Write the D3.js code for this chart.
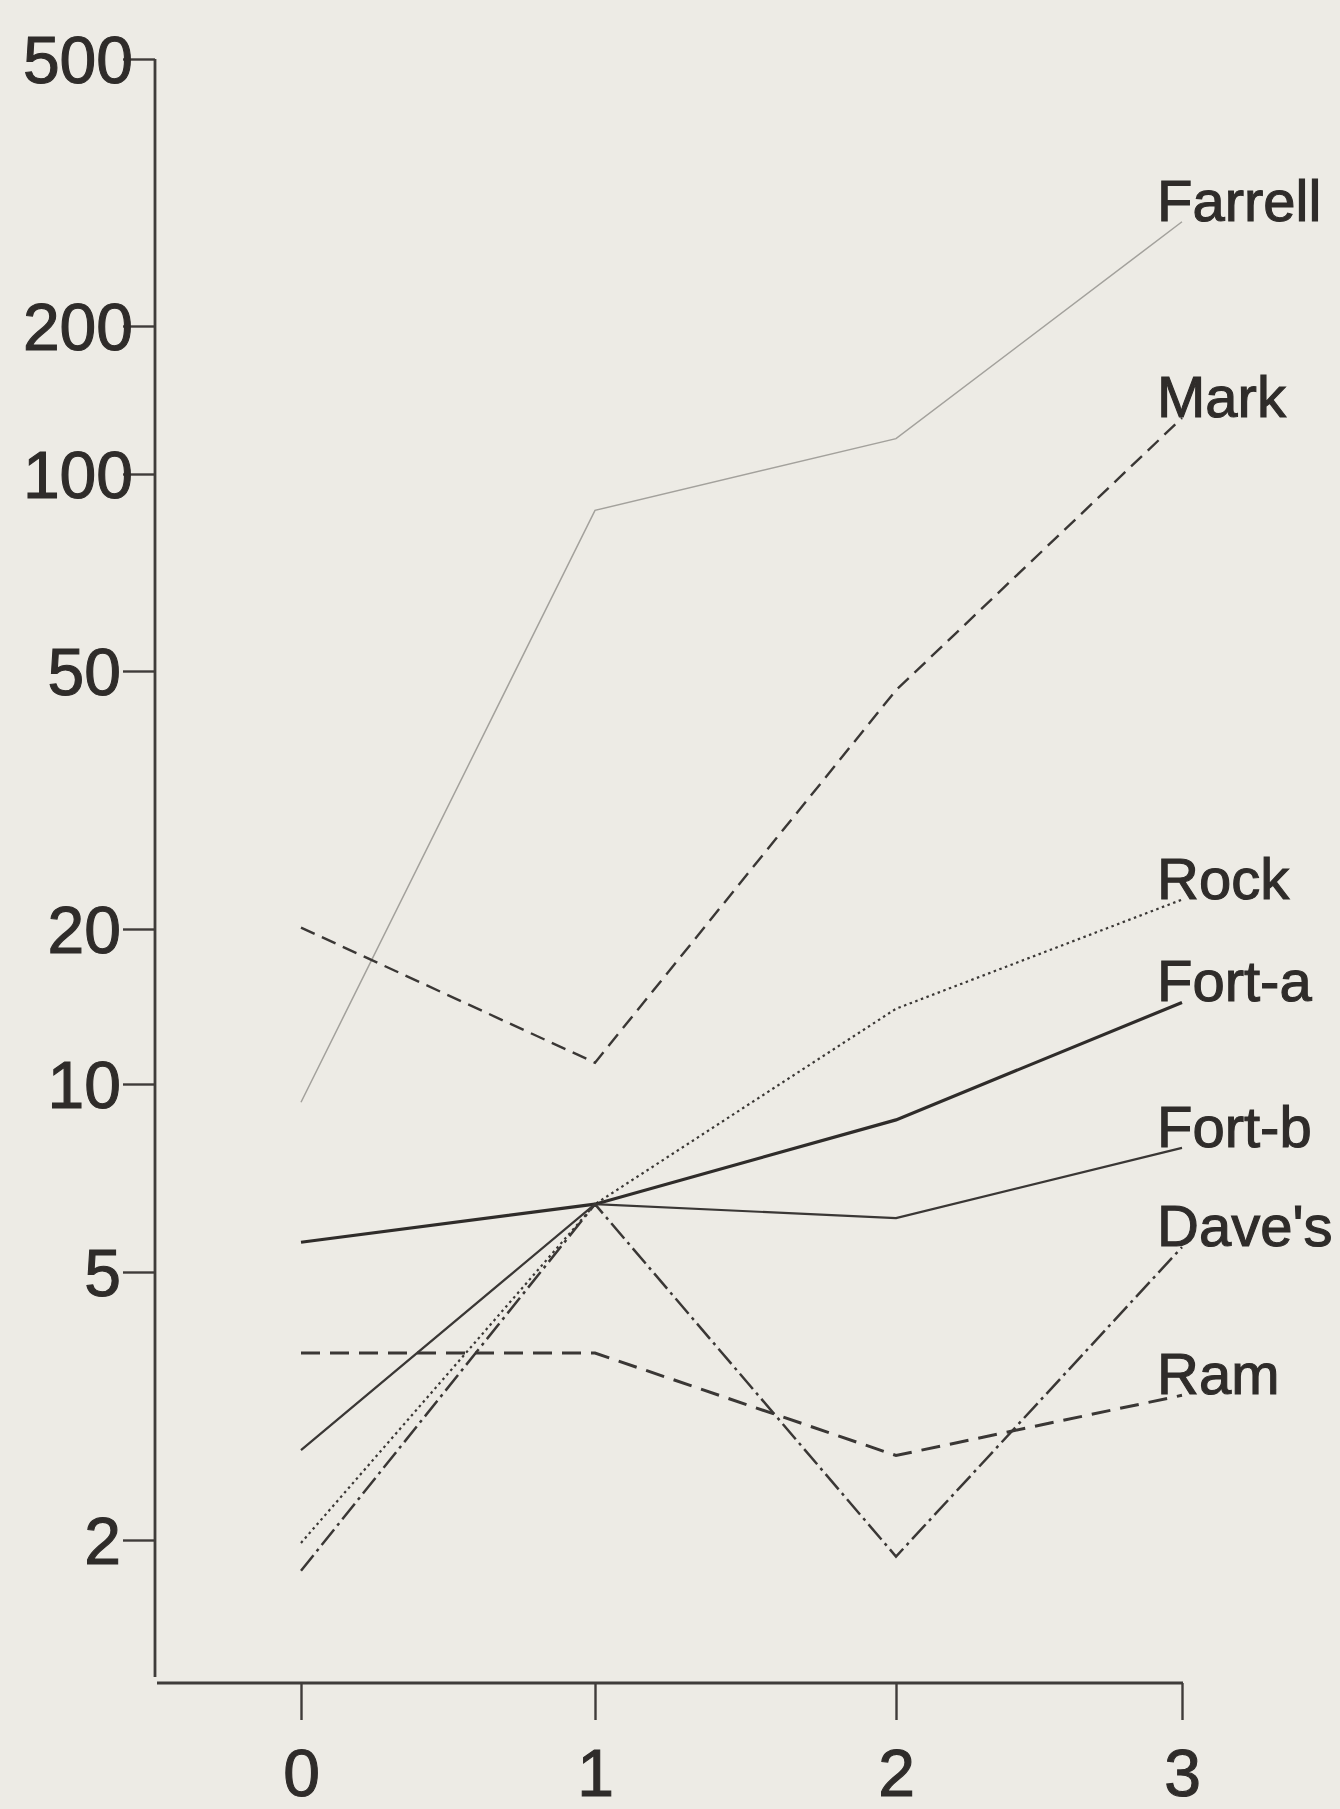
<!DOCTYPE html>
<html>
<head>
<meta charset="utf-8">
<script src="https://cdn.jsdelivr.net/npm/d3@7"></script>
<style>
html, body { margin: 0; padding: 0; background: #edebe5; }
svg { display: block; }
text { font-family: "Liberation Sans", Arial, Helvetica, sans-serif; fill: #2f2c2a; }
</style>
</head>
<body>
<svg id="chart" width="1340" height="1809"></svg>
<script>
// x positions (time) and y tick labels
var times = [0, 1, 2, 3];
var yTicks = [500, 200, 100, 50, 20, 10, 5, 2];

// series values
var farrell = [9.35, 88, 118, 286];
var mark    = [20.1, 11.0, 46.7, 130];
var rock    = [1.98, 6.42, 14.0, 22.2];
var fortA   = [5.58, 6.42, 8.76, 14.4];
var fortB   = [2.72, 6.42, 6.10, 7.9];
var daves   = [1.8, 6.42, 1.89, 5.48];
var ram     = [3.79, 3.79, 2.67, 3.28];
var names   = ["Farrell", "Mark", "Rock", "Fort-a", "Fort-b", "Dave's", "Ram"];

var seriesValues = [farrell, mark, rock, fortA, fortB, daves, ram];

// line styles, same order as names
var styles = [
  {color: "#a3a19c", width: 1.5, dash: null},
  {color: "#3a3735", width: 2.4, dash: "15,8"},
  {color: "#3a3735", width: 2.2, dash: "2.5,3.5"},
  {color: "#2f2c2a", width: 3.2, dash: null},
  {color: "#3a3735", width: 2.2, dash: null},
  {color: "#3a3735", width: 2.5, dash: "20,5,3,5"},
  {color: "#3a3735", width: 3.0, dash: "19,10"}
];

var svg = d3.select("#chart");

// the printed axis is not evenly logarithmic, so the log scale is piecewise
var x = d3.scaleLinear().domain(times).range([301, 595, 896, 1182]);
var y = d3.scaleLog().domain(yTicks).range([59, 326, 474, 671, 929, 1084, 1272, 1540]);

var axisX = 155, plotBottom = 1677, axisY = 1683;
var axisColor = "#3f3c3a";

// y axis
var yAxis = d3.axisLeft(y)
  .tickValues(yTicks)
  .tickSize(32)
  .tickSizeOuter(0)
  .tickPadding(1)
  .tickFormat(d3.format("d"));

var gy = svg.append("g").attr("transform", "translate(" + axisX + ",0)").call(yAxis);
gy.select(".domain").remove();
gy.selectAll(".tick line").attr("stroke", axisColor).attr("stroke-width", 2.4);
gy.selectAll(".tick text")
  .attr("font-size", 66)
  .attr("dy", "0.36em")
  .attr("x", function(d){ return d >= 100 ? -22 : -34; })
  .attr("stroke", "#2f2c2a")
  .attr("stroke-width", 1.1)
  .style("fill", "#2f2c2a");
svg.append("line")
  .attr("x1", axisX).attr("x2", axisX)
  .attr("y1", y(yTicks[0])).attr("y2", plotBottom)
  .attr("stroke", axisColor).attr("stroke-width", 2.8);

// x axis
var xAxis = d3.axisBottom(x)
  .tickValues(times)
  .tickSize(37)
  .tickSizeOuter(0)
  .tickPadding(29)
  .tickFormat(d3.format("d"));

var gx = svg.append("g").attr("transform", "translate(0," + axisY + ")").call(xAxis);
gx.select(".domain").remove();
gx.selectAll(".tick line").attr("stroke", axisColor).attr("stroke-width", 2.4);
gx.selectAll(".tick text")
  .attr("font-size", 66)
  .attr("stroke", "#2f2c2a")
  .attr("stroke-width", 1.1)
  .style("fill", "#2f2c2a");
svg.append("line")
  .attr("x1", axisX + 2).attr("x2", x(times[times.length - 1]) + 1)
  .attr("y1", axisY).attr("y2", axisY)
  .attr("stroke", axisColor).attr("stroke-width", 3);

// lines
var line = d3.line()
  .x(function(d, i){ return x(times[i]); })
  .y(function(d){ return y(d); });

seriesValues.forEach(function(vals, k){
  var st = styles[k];
  svg.append("path")
    .attr("d", line(vals))
    .attr("fill", "none")
    .attr("stroke", st.color)
    .attr("stroke-width", st.width)
    .attr("stroke-dasharray", st.dash)
    .attr("stroke-linejoin", "miter");
});

// labels at the right-hand end of each line
seriesValues.forEach(function(vals, k){
  svg.append("text")
    .attr("x", x(times[times.length - 1]) - 25)
    .attr("y", y(vals[vals.length - 1]) - 1)
    .attr("font-size", 58)
    .attr("stroke", "#2f2c2a")
    .attr("stroke-width", 1.1)
    .text(names[k]);
});
</script>
</body>
</html>
